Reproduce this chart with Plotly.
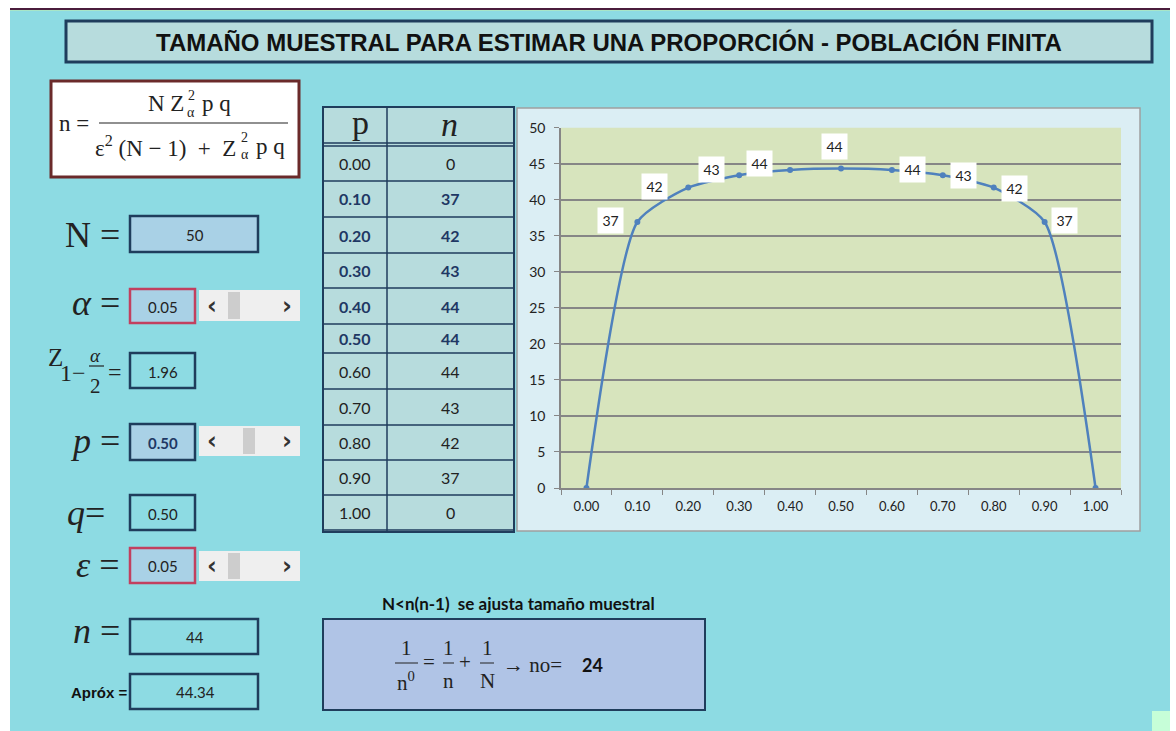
import plotly.graph_objects as go

# data
p_labels = ["0.00", "0.10", "0.20", "0.30", "0.40", "0.50", "0.60", "0.70", "0.80", "0.90", "1.00"]
n_exact = [0, 36.92, 41.69, 43.41, 44.14, 44.34, 44.14, 43.41, 41.69, 36.92, 0]
n_table = [0, 37, 42, 43, 44, 44, 44, 43, 42, 37, 0]
y_ticks = [0, 5, 10, 15, 20, 25, 30, 35, 40, 45, 50]

N_value = "50"
alpha_value = "0.05"
z_value = "1.96"
p_value = "0.50"
q_value = "0.50"
eps_value = "0.05"
n_value = "44"
approx_value = "44.34"
n0_value = "24"

W, H = 1176, 731
# the page photo lands the figure at rows 8..722, so positions below are
# given in photo pixels and mapped back here
TOP, SY = 8, 714 / 731

# colours
CYAN = "#8ddbe3"
TEAL = "#b7dcdd"
NAVY = "#1f3d5c"
CRIMSON = "#c2405f"
LIGHTBLUE = "#a9d1e6"
DARK = "#222222"
BOLDBLUE = "#1f3864"
SERIF = "Liberation Serif"
SANS = "Lato"


def X(px):
    return px / W


def Y(py):
    return 1 - ((py - TOP) / SY) / H


shapes = []
annotations = []


def rect(x0, y0, x1, y1, fill="rgba(0,0,0,0)", line="rgba(0,0,0,0)", width=0):
    shapes.append(dict(type="rect", xref="paper", yref="paper", layer="below",
                       x0=X(x0), x1=X(x1), y0=Y(y1), y1=Y(y0),
                       fillcolor=fill, line=dict(color=line, width=width)))


def hline(x0, x1, y, color, width=1):
    shapes.append(dict(type="line", xref="paper", yref="paper", layer="below",
                       x0=X(x0), x1=X(x1), y0=Y(y), y1=Y(y),
                       line=dict(color=color, width=width)))


def vline(x, y0, y1, color, width=1):
    shapes.append(dict(type="line", xref="paper", yref="paper", layer="below",
                       x0=X(x), x1=X(x), y0=Y(y0), y1=Y(y1),
                       line=dict(color=color, width=width)))


def text(x, y, s, size=15, color=DARK, family=SANS, xanchor="center"):
    annotations.append(dict(xref="paper", yref="paper", x=X(x), y=Y(y), text=s,
                            showarrow=False, xanchor=xanchor, yanchor="middle",
                            font=dict(size=size, color=color, family=family)))


def scrollbar(y0, y1, thumb_x):
    rect(199, y0, 300, y1, fill="#efefef")
    rect(thumb_x, y0 + 2, thumb_x + 12, y1 - 2, fill="#cdcdcd")
    text(212, (y0 + y1) / 2, "<b>‹</b>", 24, "#333333", "DejaVu Sans")
    text(287, (y0 + y1) / 2, "<b>›</b>", 24, "#333333", "DejaVu Sans")


# page background
rect(10, 9, 1170, 731, fill=CYAN)
hline(10, 1170, 8, "#4b1c3c", 2)
hline(10, 1170, 9.5, "#a8e6c8", 1)
rect(1152, 710, 1170, 731, fill="#c6fed8")

# title
rect(66, 20, 1152, 61, fill=TEAL, line=NAVY, width=3)
text(609, 41.5, "<b>TAMAÑO MUESTRAL PARA ESTIMAR UNA PROPORCIÓN - POBLACIÓN FINITA</b>",
     24, "#111111", "Liberation Sans")

# formula box
rect(51, 80, 299, 176, fill="white", line="#6b2a2a", width=3)
text(74, 123, "n =", 23, DARK, SERIF)
text(186, 103, "N Z", 23, DARK, SERIF, "right")
text(191, 94, "2", 14, DARK, SERIF)
text(191, 111, "α", 14, DARK, SERIF)
text(200, 103, "p q", 23, DARK, SERIF, "left")
hline(99, 288, 122, DARK, 1.2)
text(238, 145, "ε<sup>2</sup> (N − 1)  +  Z", 23, DARK, SERIF, "right")
text(244, 136, "2", 14, DARK, SERIF)
text(245, 153, "α", 14, DARK, SERIF)
text(254, 145, "p q", 23, DARK, SERIF, "left")

# left inputs
text(122, 234, "N =", 36, DARK, SERIF, "right")
rect(130, 215, 258, 251, fill=LIGHTBLUE, line=NAVY, width=2.5)
text(195, 234, N_value)

text(122, 302, "<i>α</i> =", 36, DARK, SERIF, "right")
rect(130, 288, 195, 322, fill=LIGHTBLUE, line=CRIMSON, width=2.5)
text(163, 306, alpha_value)
scrollbar(289, 320, 228)

text(55, 356, "Z", 25, DARK, SERIF)
text(73, 372, "1−", 24, DARK, SERIF)
text(96, 354, "<i>α</i>", 19, DARK, SERIF)
hline(89, 104, 365, DARK, 1.2)
text(96, 385, "2", 21, DARK, SERIF)
text(115, 371, "=", 24, DARK, SERIF)
rect(130, 352, 195, 387, line=NAVY, width=2.5)
text(163, 371, z_value)

text(122, 440, "<i>p</i> =", 36, DARK, SERIF, "right")
rect(130, 423, 195, 459, fill=LIGHTBLUE, line=NAVY, width=2.5)
text(163, 442, "<b>" + p_value + "</b>", 15, BOLDBLUE)
scrollbar(425, 455, 243)

text(107, 512, "<i>q</i>=", 36, DARK, SERIF, "right")
rect(130, 494, 195, 529, line=NAVY, width=2.5)
text(163, 513, q_value)

text(122, 564, "<i>ε</i> =", 36, DARK, SERIF, "right")
rect(130, 547, 195, 582, fill=LIGHTBLUE, line=CRIMSON, width=2.5)
text(163, 565, eps_value)
scrollbar(550, 580, 228)

text(122, 630, "<i>n</i> =", 36, DARK, SERIF, "right")
rect(130, 618, 258, 653, line=NAVY, width=2.5)
text(195, 636, n_value)

text(130, 691, "<b>Apróx =</b>", 15, "#111111", "Liberation Sans", "right")
rect(130, 673, 258, 708, line=NAVY, width=2.5)
text(195, 691, approx_value)

# table
row_bounds = [145, 180, 216, 252, 287, 323, 352, 388, 424, 459, 494, 529]
rect(323, 106, 514, 531, fill=TEAL, line=NAVY, width=2)
vline(387, 106, 531, NAVY, 1.5)
hline(323, 514, 142, NAVY, 1.5)
for yb in row_bounds:
    hline(323, 514, yb, NAVY, 1.5)
text(360, 121, "p", 34, DARK, SERIF)
text(449, 124, "<i>n</i>", 34, DARK, SERIF)
for i, (p, n) in enumerate(zip(p_labels, n_table)):
    yc = (row_bounds[i] + row_bounds[i + 1]) / 2
    if 1 <= i <= 5:
        text(355, yc, "<b>" + p + "</b>", 16, BOLDBLUE)
        text(450, yc, "<b>" + str(n) + "</b>", 16, BOLDBLUE)
    else:
        text(355, yc, p, 16)
        text(450, yc, str(n), 16)

# chart frame and plot area
rect(517, 107, 1140, 530, fill="#dbeef4", line="#a0a0a0", width=1.5)
rect(561, 126.7, 1121, 487, fill="#d7e4bd")

# adjustment note
text(518, 602, "<b>N<n(n-1)  se ajusta tamaño muestral</b>", 17, "#111111", SANS)
rect(323, 618, 705, 709, fill="#b0c4e6", line=NAVY, width=2)
text(406, 647, "1", 21, DARK, SERIF)
hline(395, 418, 662, DARK, 1)
text(406, 680, "n<sup>0</sup>", 21, DARK, SERIF)
text(429, 661, "=", 21, DARK, SERIF)
text(448, 647, "1", 21, DARK, SERIF)
hline(443, 454, 662, DARK, 1)
text(448, 680, "n", 21, DARK, SERIF)
text(465, 661, "+", 21, DARK, SERIF)
text(487, 647, "1", 21, DARK, SERIF)
hline(480, 494, 662, DARK, 1)
text(487, 680, "N", 21, DARK, SERIF)
text(501, 664, "→ no=", 21, DARK, SERIF, "left")
text(592, 664, "<b>" + n0_value + "</b>", 18, "#111111", SANS)

# line of n against p
fig = go.Figure()
fig.add_trace(go.Scatter(
    x=p_labels, y=n_exact, mode="lines+markers",
    line=dict(color="#4f81bd", width=2.5, shape="spline", smoothing=0.6),
    marker=dict(size=6, color="#4f81bd"),
    hoverinfo="x+y", showlegend=False,
))

# data labels, offset from their points in pixels like the Excel ones
label_shift = [None, (-27, 1), (-34, 1), (-28, 6), (-31, 6), (-7, 22),
               (21, 0), (21, 0), (21, -1), (20, 1), None]
for i, (n, val, sh) in enumerate(zip(n_exact, n_table, label_shift)):
    if sh is None:
        continue
    annotations.append(dict(xref="x", yref="y", x=i, y=n, text=str(val),
                            showarrow=False, xshift=sh[0], yshift=sh[1],
                            bgcolor="white", width=21, height=21, borderpad=2,
                            font=dict(size=14, color=DARK, family=SANS)))

fig.update_layout(
    width=W, height=H, autosize=False,
    margin=dict(l=0, r=0, t=0, b=0),
    paper_bgcolor="white", plot_bgcolor="rgba(0,0,0,0)",
    shapes=shapes, annotations=annotations,
    xaxis=dict(domain=[X(561), X(1121)], type="category", range=[-0.5, 10.5],
               showgrid=False, showline=True, linecolor="#868686", linewidth=1.5,
               ticks="outside", tickson="boundaries", ticklen=5, tickcolor="#868686",
               ticklabelstandoff=6,
               tickfont=dict(size=13, color=DARK, family=SANS), fixedrange=True),
    yaxis=dict(domain=[Y(487), Y(126.7)], range=[0, 50], tickvals=y_ticks,
               showgrid=True, gridcolor="#868686", gridwidth=1.5, zeroline=False,
               showline=True, linecolor="#868686", linewidth=1.5,
               ticks="outside", ticklen=5, tickcolor="#868686", ticklabelstandoff=6,
               tickfont=dict(size=14, color=DARK, family=SANS), fixedrange=True),
)

# pin the figure to the top-left corner of the window, no page scroll
pin = ("document.documentElement.style.overflow='hidden';"
       "document.body.style.margin='0';document.body.style.overflow='hidden';"
       "var d=document.getElementById('{plot_id}');"
       "d.style.position='fixed';d.style.left='0px';d.style.top='0px';")
fig.write_html("out.html", post_script=pin, config={"displayModeBar": False})
